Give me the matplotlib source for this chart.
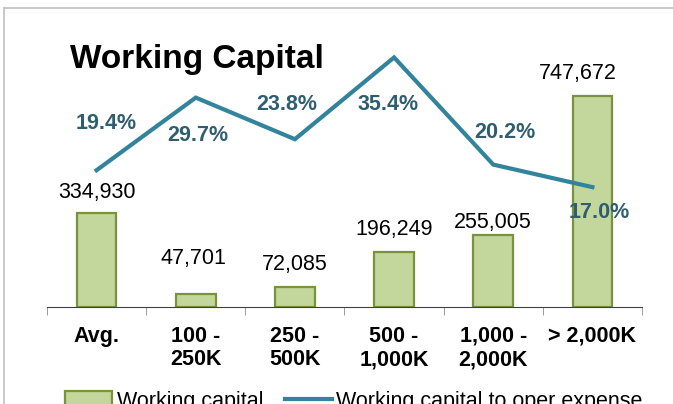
import numpy as np
import matplotlib
matplotlib.use('Agg')
import matplotlib.pyplot as plt
from matplotlib.lines import Line2D

plt.rcParams['font.family'] = ['Liberation Sans', 'DejaVu Sans']

# data
categories = ['Avg.', '100 -\n250K', '250 -\n500K', '500 -\n1,000K', '1,000 -\n2,000K', '> 2,000K']
working_capital = [334930, 47701, 72085, 196249, 255005, 747672]
wc_to_opex = [19.4, 29.7, 23.8, 35.4, 20.2, 17.0]

# label nudges in pixels (dx, dy), picked by eye
bar_lbl_off = [(0, 20), (-2, 35), (0, 22), (0, 22), (0, 13), (-15, 23)]
pct_lbl_off = [(10, 47), (2, -38), (-8, 35), (-6, -47), (12, 32), (7, -25)]

bar_fill = '#C3D69B'
bar_edge = '#77933C'
line_col = '#31849B'
pct_col = '#2F5E70'
fs = 15.5

fig = plt.figure(figsize=(6.73, 4.04), dpi=100)
ax = fig.add_axes([47/673, 97/404, 595/673, 282/404])
x = np.arange(len(categories))

bars = ax.bar(x, working_capital, width=0.4, color=bar_fill, edgecolor=bar_edge,
              linewidth=1.6, label='Working capital', zorder=2)
ax.set_ylim(0, 1000000)
ax.set_xlim(-0.5, len(categories) - 0.5)
for s in ['top', 'right', 'left']:
    ax.spines[s].set_visible(False)
ax.spines['bottom'].set_color('#404040')
ax.set_yticks([])
ax.set_xticks(x)
ax.set_xticklabels(categories, fontsize=fs, fontweight='bold', linespacing=1.15)
ax.set_xticks(np.arange(-0.5, len(categories)), minor=True)
ax.tick_params(axis='x', which='major', length=0, pad=13.5)
ax.tick_params(axis='x', which='minor', length=6, color='#8C8C8C', direction='out')

for i, v in enumerate(working_capital):
    ax.annotate(f'{v:,}', (x[i], v), xytext=bar_lbl_off[i], textcoords='offset pixels',
                ha='center', va='center', fontsize=fs, color='black')

ax2 = ax.twinx()
ln, = ax2.plot(x, wc_to_opex, color=line_col, lw=3, solid_joinstyle='miter',
               label='Working capital to oper expense')
ax2.set_ylim(0, 40)
ax2.set_yticks([])
for s in ax2.spines.values():
    s.set_visible(False)

for i, p in enumerate(wc_to_opex):
    ax2.annotate(f'{p:.1f}%', (x[i], p), xytext=pct_lbl_off[i], textcoords='offset pixels',
                 ha='center', va='center', fontsize=fs, fontweight='bold', color=pct_col)

fig.text(70/673, 1 - 68/404, 'Working Capital', fontsize=24, fontweight='bold',
         ha='left', va='baseline')

# legend sits partly below the bottom edge, as in the original
fig.legend([bars, ln], ['Working capital', 'Working capital to oper expense'],
           loc='center left', bbox_to_anchor=(65/673, 3/404), ncol=2, frameon=False,
           fontsize=fs, handlelength=2.2, handleheight=0.7, handletextpad=0.2,
           columnspacing=1.0, borderpad=0, borderaxespad=0)

# light grey outline of the chart box
fig.add_artist(Line2D([4/673, 1], [1 - 8/404, 1 - 8/404], transform=fig.transFigure,
                      color='#C0C0C0', lw=1.2))
fig.add_artist(Line2D([4/673, 4/673], [0, 1 - 8/404], transform=fig.transFigure,
                      color='#C0C0C0', lw=1.2))

fig.savefig('out.png', dpi=100)
